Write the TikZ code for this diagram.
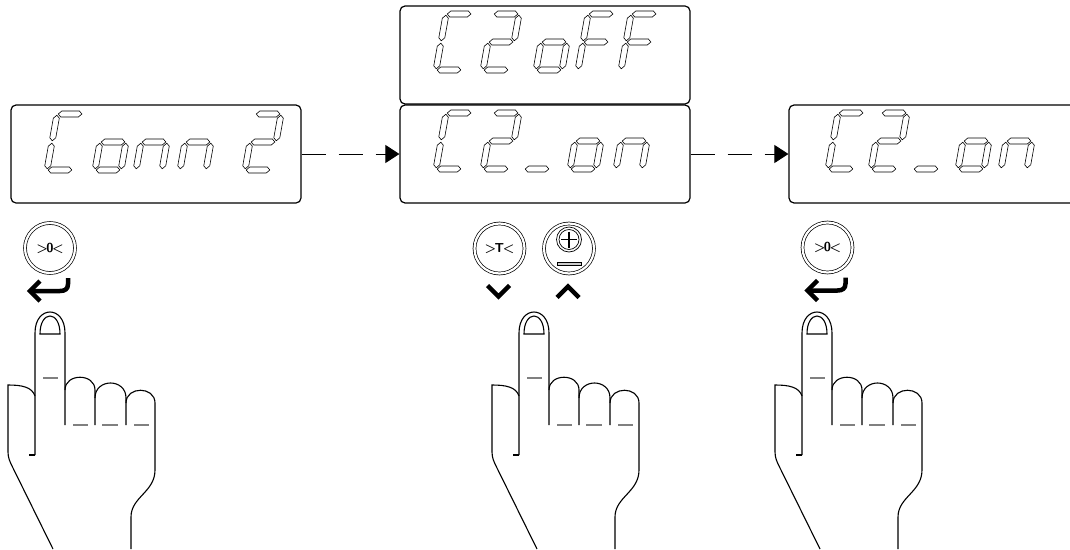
\documentclass[tikz,border=0pt]{standalone}
\usetikzlibrary{arrows.meta}

% seven segment pieces, local cell 26 x 56, y up
\newcommand\hseg[3]{\draw[segline] (#1,#3) -- ({#1+3},{#3+3}) -- ({#2-3},{#3+3}) -- (#2,#3) -- ({#2-3},{#3-3}) -- ({#1+3},{#3-3}) -- cycle;}
\newcommand\vseg[3]{\draw[segline] (#1,#2) -- ({#1+3},{#2+3}) -- ({#1+3},{#3-3}) -- (#1,#3) -- ({#1-3},{#3-3}) -- ({#1-3},{#2+3}) -- cycle;}
\newcommand\segmA{\hseg{1.2}{24.8}{56}}
\newcommand\segmB{\vseg{26}{29.2}{54.8}}
\newcommand\segmC{\vseg{26}{1.2}{26.8}}
\newcommand\segmD{\hseg{1.2}{24.8}{0}}
\newcommand\segmE{\vseg{0}{1.2}{26.8}}
\newcommand\segmF{\vseg{0}{29.2}{54.8}}
\newcommand\segmG{\hseg{1.2}{24.8}{28}}
\newcommand\glyph[3]{%
  \begin{scope}[shift={(#1,#2)},xslant=0.18,yscale=-1]
    \foreach \s in {#3}{\csname segm\s\endcsname}
  \end{scope}}

\tikzset{
  segline/.style={draw=black,fill=white,line width=0.6pt,line join=miter},
  display/.style={draw,rounded corners=5pt,line width=1.2pt,minimum width=290pt,minimum height=98pt,inner sep=0pt},
  key/.style={circle,draw,double,double distance=2.2pt,line width=0.7pt,minimum size=50pt,inner sep=0pt,font=\fontsize{13}{13}\selectfont\sffamily\bfseries},
  flow/.style={line width=0.9pt,dash pattern=on 24pt off 13pt,-{Triangle[length=14pt,width=18pt]}},
  keyarrow/.style={line width=4.5pt},
  handline/.style={line width=1.1pt},
  crease/.style={line width=1.6pt,gray},
  enter/.pic={
    \draw[keyarrow] (18,30) -- (18,36) .. controls (18,41) and (15,43) .. (10,43) -- (-20,43);
    \draw[keyarrow] (-10,33) -- (-20,43) -- (-10,53);
  },
  hand/.pic={
    % index finger and nail
    \draw[handline] (-15,455) -- (-15,333) .. controls (-15,305) and (15,305) .. (15,333) -- (15,425);
    \draw[handline] (-21,455) -- (-15,455);
    \draw[handline] (-10,334) .. controls (-10,310) and (10,310) .. (10,334) -- cycle;
    % thumb and wrist
    \draw[handline] (-15,396) .. controls (-18,387) and (-28,385) .. (-42,385) -- (-42,452)
      .. controls (-42,458) and (-40,462) .. (-37,468) -- (3,549);
    % other fingers
    \draw[handline] (15,390) .. controls (15,373) and (45,373) .. (45,390) -- (45,425);
    \draw[handline] (45,398) .. controls (45,378) and (76,378) .. (76,398) -- (76,425);
    \draw[handline] (76,403) .. controls (76,386) and (105,386) .. (105,403) -- (105,470)
      .. controls (105,492) and (81,497) .. (81,517) -- (81,549);
    \draw[crease] (-7,378) -- (8,378) (23,425) -- (38,425) (52,425) -- (68,425) (84,425) -- (99,425);
  },
}

\begin{document}
\begin{tikzpicture}[x=1pt,y=-1pt]
\useasboundingbox (0,0) rectangle (1070,549);
\clip (0,0) rectangle (1070,549);

% displays
\node[display] (conn) at (156,154) {};
\node[display] (coff) at (545,55) {};
\node[display] (con) at (545,154) {};
\node[display] (conext) at (934,154) {};

\draw[flow] (conn.east) -- (con.west);
\draw[flow] (con.east) -- (conext.west);

% Conn 2
\glyph{47}{170}{A,F,E,D}
\glyph{95}{170}{G,C,D,E}
\glyph{136}{170}{G,E,C}
\glyph{180}{170}{G,E,C}
\glyph{245}{170}{A,B,G,E,D}
% C2oFF
\glyph{436}{70}{A,F,E,D}
\glyph{483}{70}{A,B,G,E,D}
\glyph{536}{70}{G,C,D,E}
\glyph{578}{70}{A,F,E,G}
\glyph{621}{70}{A,F,E,G}
% C2_on
\glyph{436}{169}{A,F,E,D}
\glyph{483}{169}{A,B,G,E,D}
\glyph{524}{169}{D}
\glyph{570}{169}{G,C,D,E}
\glyph{616}{169}{G,E,C}
% C2_on again
\glyph{828}{169}{A,F,E,D}
\glyph{871}{169}{A,B,G,E,D}
\glyph{913}{169}{D}
\glyph{958}{169}{G,C,D,E}
\glyph{1001}{169}{G,E,C}

% keys
\node[key] (zeroa) at (50,248) {>\kern-1.5pt0\kern-1.5pt<};
\node[key] (tare) at (499.5,248.5) {>\kern-1.5ptT\kern-1.5pt<};
\node[key] (plus) at (569,248.5) {};
\node[key] (zerob) at (827.5,247.5) {>\kern-1.5pt0\kern-1.5pt<};

\pic at (zeroa) {enter};
\pic at (zerob) {enter};
\draw[keyarrow] ([shift={(-12,37)}]tare.center) -- ([shift={(-1,48)}]tare.center) -- ([shift={(10,37)}]tare.center);
\draw[keyarrow] ([shift={(-12,49)}]plus.center) -- ([shift={(-1,38)}]plus.center) -- ([shift={(10,49)}]plus.center);

\begin{scope}[shift={(plus.center)}]
  \draw[line width=0.7pt] (0,-9) circle (12.5pt);
  \draw[line width=0.7pt] (0,-9) circle (10pt);
  \draw[line width=1.8pt] (-8,-9) -- (8,-9) (0,-17) -- (0,-1);
  \draw[line width=0.6pt,fill=gray!40] (-12,14) rectangle (12,17);
\end{scope}

% hands
\pic at (50,0) {hand};
\pic at (534,0) {hand};
\pic at (817,0) {hand};
\end{tikzpicture}
\end{document}
